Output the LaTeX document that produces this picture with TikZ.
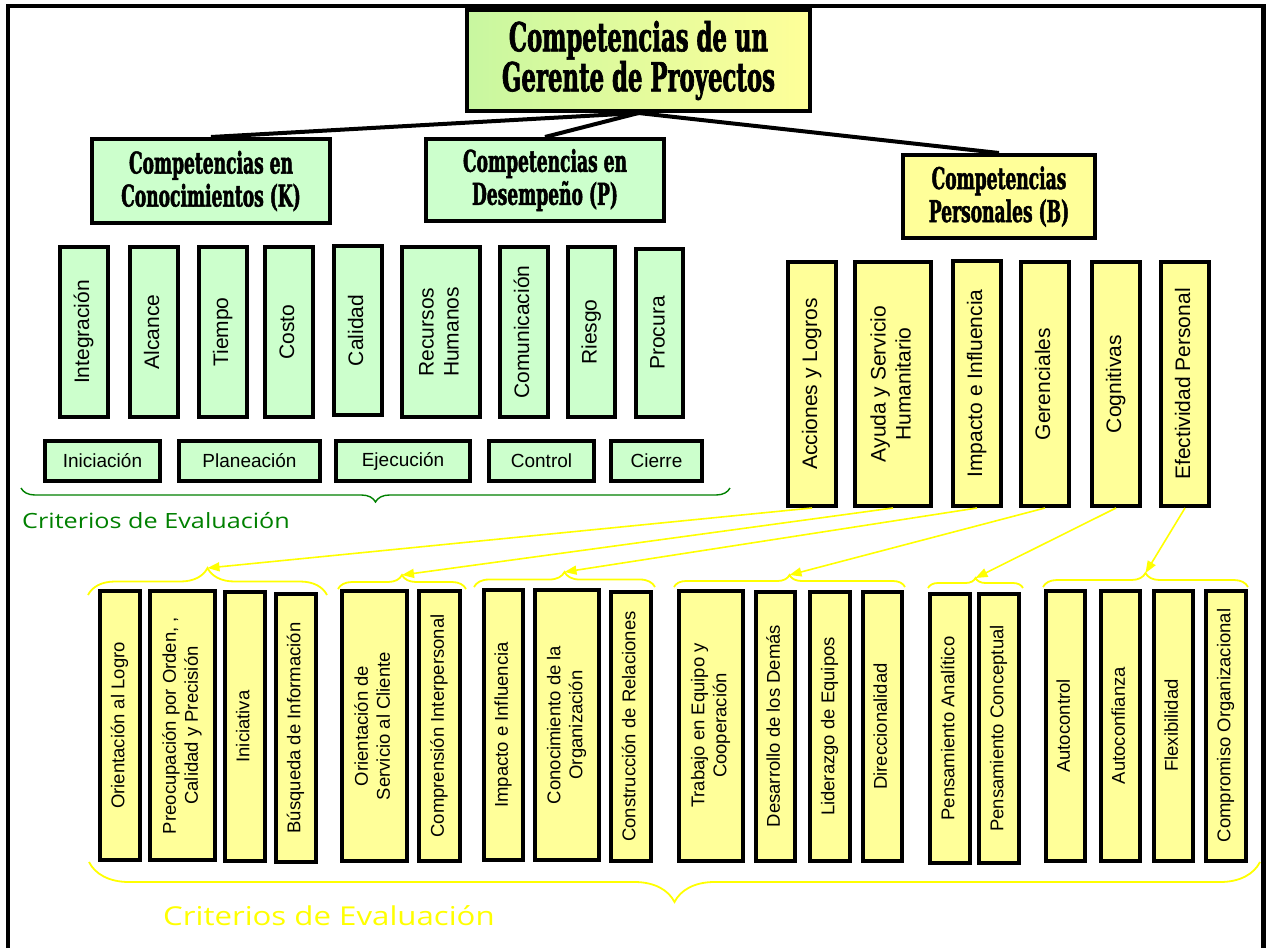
\documentclass[tikz,border=0pt]{standalone}
\usepackage{fontspec}
\setsansfont{Liberation Sans}
\newfontfamily\headfont[FakeStretch=0.57,FakeBold=1.6]{DejaVu Serif}
\newfontfamily\handfont[FakeStretch=1.2]{Open Sans}
\usetikzlibrary{arrows.meta,decorations.pathreplacing}

\definecolor{boxgreen}{HTML}{CCFFCC}
\definecolor{boxyellow}{HTML}{FFFF99}
\definecolor{titlegreen}{HTML}{C8F7A0}
\definecolor{evalgreen}{HTML}{008000}
\definecolor{linkyellow}{HTML}{FFFF00}

% vertical label: text turned to read upwards, one or more centred lines
\newcommand{\vlab}[1]{\rotatebox{90}{\begin{tabular}{@{}c@{}}#1\end{tabular}}}

\tikzset{
  sz/.style 2 args={minimum width=#1, minimum height=#2},
  box/.style={draw=black, line width=4pt, inner sep=0pt, rectangle},
  headbox/.style={box, align=center, font=\headfont\bfseries\fontsize{40}{40}\selectfont},
  catbox/.style={box, align=center, font=\headfont\bfseries\fontsize{30}{33}\selectfont},
  kbox/.style={box, fill=boxgreen, font=\sffamily\fontsize{21}{25}\selectfont},
  phbox/.style={box, fill=boxgreen, font=\sffamily\fontsize{19}{22}\selectfont},
  bbox/.style={box, fill=boxyellow, font=\sffamily\fontsize{21}{25}\selectfont},
  cbox/.style={box, fill=boxyellow, font=\sffamily\fontsize{18.5}{22}\selectfont},
  trunk/.style={draw=black, line width=4pt},
  ylink/.style={draw=linkyellow, line width=1.6pt, -{Triangle[length=12pt,width=9pt]}},
  ybrace/.style={draw=linkyellow, line width=1.8pt, decorate},
  gbrace/.style={draw=evalgreen, line width=1.4pt, decorate},
  evaltext/.style={inner sep=0pt, anchor=base west},
}

\begin{document}
\begin{tikzpicture}[x=1pt, y=-1pt]
\useasboundingbox (0,0) rectangle (1266,948);

% page frame (open at the bottom)
\draw[line width=4.5pt] (8,948) -- (8,6) -- (1263.5,6) -- (1263.5,948);

% root and the three competence groups
\node[headbox, left color=titlegreen, right color=boxyellow, sz={343pt}{101pt}] (title) at (638.5,60.5)
  {Competencias de un\\Gerente de Proyectos};
\node[catbox, fill=boxgreen, sz={238pt}{84pt}] (know) at (211,181) {Competencias en\\Conocimientos (K)};
\node[catbox, fill=boxgreen, sz={238pt}{82pt}] (perf) at (545,180) {Competencias en\\Desempeño (P)};
\node[catbox, fill=boxyellow, sz={192pt}{83pt}] (pers) at (999,196.5) {Competencias\\Personales (B)};

\draw[trunk] (title.south) -- (know.north);
\draw[trunk] (title.south) -- (perf.north);
\draw[trunk] (title.south) -- (pers.north);

% knowledge areas
\node[kbox, sz={48pt}{170pt}] (integ) at (84,332) {\vlab{Integración}};
\node[kbox, sz={48pt}{170pt}] (alc) at (154,332) {\vlab{Alcance}};
\node[kbox, sz={48pt}{170pt}] (tiem) at (223,332) {\vlab{Tiempo}};
\node[kbox, sz={48pt}{170pt}] (cost) at (289,332) {\vlab{Costo}};
\node[kbox, sz={48pt}{169pt}] (cali) at (358,330.5) {\vlab{Calidad}};
\node[kbox, sz={78pt}{170pt}] (rrhh) at (441,332) {\vlab{Recursos\\Humanos}};
\node[kbox, sz={48pt}{170pt}] (comu) at (524,332) {\vlab{Comunicación}};
\node[kbox, sz={47pt}{170pt}] (ries) at (591.5,332) {\vlab{Riesgo}};
\node[kbox, sz={47pt}{168pt}] (proc) at (659.5,333) {\vlab{Procura}};

% process groups
\node[phbox, sz={115pt}{40pt}] (ini) at (102.5,461) {Iniciación};
\node[phbox, sz={141pt}{40pt}] (plan) at (249.5,461) {Planeación};
\node[phbox, sz={134pt}{40pt}] (ejec) at (403,461) {Ejecución};
\node[phbox, sz={105pt}{40pt}] (ctrl) at (541.5,461) {Control};
\node[phbox, sz={91pt}{40pt}] (cier) at (656.5,461) {Cierre};

\draw[gbrace, decoration={brace, amplitude=14pt}] (730,488) -- (21,488);
\node[evaltext, text=evalgreen, font=\handfont\fontsize{21}{24}\selectfont] (evalk) at (22,528) {Criterios de Evaluación};

% personal competence clusters
\node[bbox, sz={48pt}{244pt}] (acc) at (812,384) {\vlab{Acciones y Logros}};
\node[bbox, sz={76pt}{244pt}] (ayu) at (893,384) {\vlab{Ayuda y Servicio\\Humanitario}};
\node[bbox, sz={48pt}{245pt}] (impi) at (977,383.5) {\vlab{Impacto e Influencia}};
\node[bbox, sz={48pt}{244pt}] (ger) at (1045,384) {\vlab{Gerenciales}};
\node[bbox, sz={48pt}{244pt}] (cog) at (1116,384) {\vlab{Cognitivas}};
\node[bbox, sz={48pt}{244pt}] (efe) at (1185,384) {\vlab{Efectividad Personal}};

% individual competences
\node[cbox, sz={40pt}{269pt}] (olog) at (120,725.5) {\vlab{Orientación al Logro}};
\node[cbox, sz={65pt}{269pt}] (preo) at (182.5,725.5) {\vlab{Preocupación por Orden, ,\\Calidad y Precisión}};
\node[cbox, sz={40pt}{269pt}] (inic) at (245,726.5) {\vlab{Iniciativa}};
\node[cbox, sz={40pt}{268pt}] (busq) at (296,728) {\vlab{Búsqueda de Información}};
\node[cbox, sz={65pt}{270pt}] (osc) at (374.5,726) {\vlab{Orientación de\\Servicio al Cliente}};
\node[cbox, sz={41pt}{270pt}] (cint) at (439.5,726) {\vlab{Comprensión Interpersonal}};
\node[cbox, sz={39pt}{270pt}] (imp) at (503.5,725) {\vlab{Impacto e Influencia}};
\node[cbox, sz={64pt}{270pt}] (cono) at (567,725) {\vlab{Conocimiento de la\\Organización}};
\node[cbox, sz={40pt}{269pt}] (cons) at (631,726.5) {\vlab{Construcción de Relaciones}};
\node[cbox, sz={64pt}{270pt}] (trab) at (711,725.5) {\vlab{Trabajo en Equipo y\\Cooperación}};
\node[cbox, sz={39pt}{269pt}] (desa) at (775.5,726) {\vlab{Desarrollo de los Demás}};
\node[cbox, sz={40pt}{269pt}] (lide) at (830,726.5) {\vlab{Liderazgo de Equipos}};
\node[cbox, sz={39pt}{269pt}] (dire) at (882.5,726.5) {\vlab{Direccionalidad}};
\node[cbox, sz={40pt}{269pt}] (pana) at (950,728.5) {\vlab{Pensamiento Analítico}};
\node[cbox, sz={40pt}{269pt}] (pcon) at (999,728.5) {\vlab{Pensamiento Conceptual}};
\node[cbox, sz={39pt}{270pt}] (actl) at (1065.5,726) {\vlab{Autocontrol}};
\node[cbox, sz={39pt}{270pt}] (acnf) at (1120.5,725.5) {\vlab{Autoconfianza}};
\node[cbox, sz={39pt}{270pt}] (flex) at (1173.5,725.5) {\vlab{Flexibilidad}};
\node[cbox, sz={40pt}{270pt}] (corg) at (1226,725.5) {\vlab{Compromiso Organizacional}};

% braces grouping the competences of each cluster
\draw[ybrace, decoration={brace, amplitude=27pt}] (88,595) -- (327,595);
\draw[ybrace, decoration={brace, amplitude=14pt}] (338,589) -- (466,589);
\draw[ybrace, decoration={brace, amplitude=15pt}] (474,587) -- (655,587);
\draw[ybrace, decoration={brace, amplitude=12pt}] (674,587) -- (905,587);
\draw[ybrace, decoration={brace, amplitude=10pt}] (928,588) -- (1023,588);
\draw[ybrace, decoration={brace, amplitude=14pt}] (1043,587) -- (1248,587);

\coordinate (tip1) at (207.5,568);
\coordinate (tip2) at (402,575);
\coordinate (tip3) at (564.5,572);
\coordinate (tip4) at (789.5,575);
\coordinate (tip5) at (975.5,578);
\coordinate (tip6) at (1145.5,573);

\draw[ylink] (acc.south) -- (tip1);
\draw[ylink] (ayu.south) -- (tip2);
\draw[ylink] (impi.south) -- (tip3);
\draw[ylink] (ger.south) -- (tip4);
\draw[ylink] (cog.south) -- (tip5);
\draw[ylink] (efe.south) -- (tip6);

\draw[ybrace, decoration={brace, amplitude=40pt}] (1260,862) -- (89,862);
\node[evaltext, text=linkyellow, font=\handfont\fontsize{26}{30}\selectfont] (evalb) at (163,925) {Criterios de Evaluación};
\end{tikzpicture}
\end{document}
